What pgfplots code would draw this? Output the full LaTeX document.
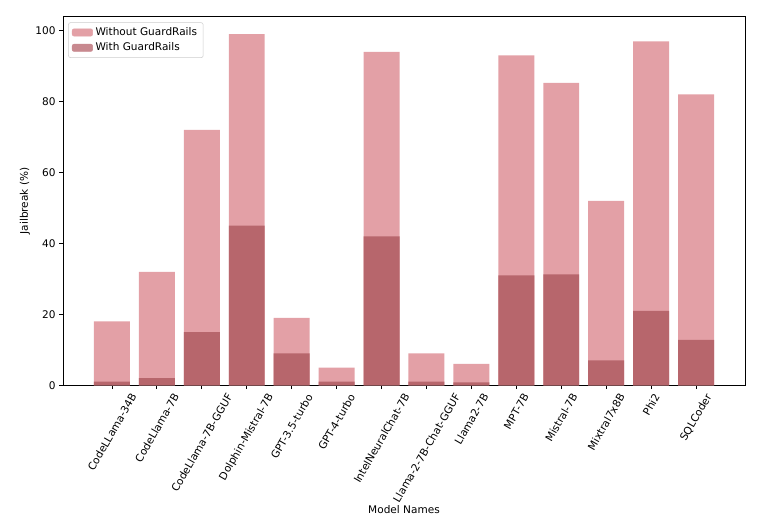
\documentclass[border=0pt]{standalone}
\usepackage{fontspec}
\setmainfont{DejaVu Sans}
\usepackage{graphicx}
\usepackage{pgfplots}
\pgfplotsset{compat=1.18}
\definecolor{cA}{RGB}{227,160,166}
\definecolor{cB}{RGB}{183,102,108}
\definecolor{cBl}{RGB}{200,137,143}
\newcommand{\fs}{\fontsize{7.9}{9.5}\selectfont}
\begin{document}
\begin{tikzpicture}
\path[use as bounding box] (-47.25pt,-107pt) rectangle (522.75pt,288.95pt);
\begin{axis}[
  at={(0pt,0pt)}, anchor=south west,
  scale only axis, width=511.5pt, height=276.45pt,
  xmin=-1.09, xmax=14.09, ymin=0, ymax=103.95,
  axis line style={black, line width=0.6pt},
  tick style={black, line width=0.6pt},
  tick align=outside, major tick length=2.8pt,
  xtick pos=bottom, ytick pos=left,
  xtick={0,...,13},
  ytick={0,20,40,60,80,100},
  xticklabels={\rotatebox{60}{CodeLLama-34B},\rotatebox{60}{CodeLlama-7B},\rotatebox{60}{CodeLlama-7B-GGUF},\rotatebox{60}{Dolphin-Mistral-7B},\rotatebox{60}{GPT-3.5-turbo},\rotatebox{60}{GPT-4-turbo},\rotatebox{60}{IntelNeuralChat-7B},\rotatebox{60}{Llama-2-7B-Chat-GGUF},\rotatebox{60}{Llama2-7B},\rotatebox{60}{MPT-7B},\rotatebox{60}{Mistral-7B},\rotatebox{60}{Mixtral7x8B},\rotatebox{60}{Phi2},\rotatebox{60}{SQLCoder}},
  xticklabel style={anchor=north, inner sep=0pt, yshift=-2.6pt, font=\fs},
  yticklabel style={anchor=east, inner sep=0pt, xshift=-2.6pt, font=\fs},
  /pgf/number format/assume math mode=true,
  ylabel={Jailbreak (\%)}, xlabel={Model Names},
  every axis y label/.style={at={(axis description cs:-0.0557,0.5)}, rotate=90, anchor=center, font=\fs},
  every axis x label/.style={at={(axis description cs:0.5,-0.338)}, anchor=center, font=\fs},
  legend style={at={(axis description cs:0,1)}, anchor=north west, xshift=3.9pt, yshift=-4.3pt,
    draw=black!20, rounded corners=1.5pt, font=\fs, inner xsep=2.6pt, inner ysep=1.6pt,
    row sep=0pt, nodes={inner sep=2pt}},
  legend cell align=left,
]
\addplot[ybar, bar width=0.8, bar shift=0pt, fill=cA, draw=none, forget plot] coordinates {
(0,18) (1,32) (2,72) (3,99) (4,19) (5,5) (6,94) (7,9) (8,6) (9,93) (10,85.3) (11,52) (12,97) (13,82)};
\addplot[ybar, bar width=0.8, bar shift=0pt, fill=cB, draw=none, forget plot] coordinates {
(0,1) (1,2) (2,15) (3,45) (4,9) (5,1) (6,42) (7,1) (8,0.8) (9,31) (10,31.3) (11,7) (12,21) (13,12.8)};
\addlegendimage{legend image code/.code={\fill[cA] (0pt,-2.75pt) rectangle (15.3pt,2.75pt);}}
\addlegendentry{Without GuardRails}
\addlegendimage{legend image code/.code={\fill[cBl] (0pt,-2.75pt) rectangle (15.3pt,2.75pt);}}
\addlegendentry{With GuardRails}
\end{axis}
\end{tikzpicture}
\end{document}
